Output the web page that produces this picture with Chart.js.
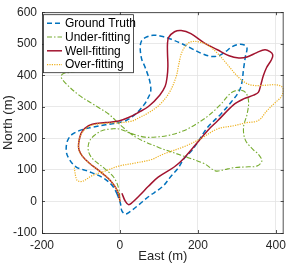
<!DOCTYPE html>
<html>
<head>
<meta charset="utf-8">
<script src="https://cdn.jsdelivr.net/npm/chart.js@4.4.0/dist/chart.umd.min.js"></script>
<style>
html, body { margin: 0; padding: 0; background: #fff; }
#wrap { width: 291px; height: 265px; }
</style>
</head>
<body>
<div id="wrap"><canvas id="trajChart" width="291" height="265"></canvas></div>
<script>
var xTicks = [-200, 0, 200, 400];
var yTicks = [-100, 0, 100, 200, 300, 400, 500, 600];

var seriesNames = ['Ground Truth', 'Under-fitting', 'Well-fitting', 'Over-fitting'];

// ground truth (closed loop)
var gtEast  = [-8, 1, 5, 14, 26, 47, 73, 110, 131, 150, 165, 182, 199, 225, 258, 280, 305, 313, 317, 322, 326, 319, 305, 288, 271, 254, 233, 208, 182, 157, 132, 106, 85, 66, 55, 52, 56, 63, 72, 77, 79, 72, 62, 39, 15, -3, -37, -71, -96, -121, -134, -138, -132, -113, -82, -45, -20, -8];
var gtNorth = [26, -5, -30, -40, -32, -12, 15, 48, 80, 107, 137, 158, 187, 235, 276, 307, 348, 378, 419, 460, 486, 496, 498, 491, 475, 462, 460, 470, 486, 501, 514, 524, 527, 520, 508, 485, 450, 430, 400, 378, 350, 328, 307, 276, 256, 250, 243, 235, 228, 214, 194, 163, 138, 110, 96, 76, 51, 26];

var underEast  = [-113, -135, -147, -151, -138, -105, -71, -54, -30, -12, 5, 39, 98, 165, 216, 245, 265, 292, 330, 351, 364, 355, 343, 322, 317, 326, 330, 322, 305, 284, 258, 225, 199, 174, 150, 123, 100, 64, 30, -3, -20, -45, -66, -79, -81, -70, -42, -15, -3, 0];
var underNorth = [412, 408, 404, 394, 373, 337, 310, 297, 278, 258, 238, 205, 172, 143, 120, 97, 100, 107, 110, 112, 128, 150, 163, 194, 235, 276, 317, 346, 353, 343, 307, 270, 248, 230, 218, 209, 205, 204, 215, 230, 230, 225, 209, 189, 160, 135, 107, 75, 40, 5];

var wellEast  = [0, -3, -12, -29, -54, -79, -96, -105, -106, -100, -90, -71, -37, -3, 22, 47, 73, 102, 116, 121, 123, 122, 122, 125, 140, 157, 182, 216, 250, 280, 305, 326, 351, 372, 385, 392, 389, 376, 368, 361, 355, 343, 317, 292, 250, 233, 207, 165, 140, 98, 73, 52, 30, 22, 14, 5];
var wellNorth = [0, 21, 46, 72, 98, 122, 143, 163, 184, 215, 232, 245, 250, 255, 266, 282, 301, 337, 365, 395, 429, 470, 501, 520, 538, 542, 532, 503, 481, 462, 455, 458, 472, 481, 475, 465, 450, 424, 399, 368, 346, 337, 325, 307, 255, 235, 199, 138, 110, 77, 48, 21, -5, -10, 0, 26];

var overEast  = [0, -3, -12, -29, -54, -79, -96, -105, -106, -100, -88, -71, -45, -12, -3, 31, 50, 73, 102, 128, 145, 150, 158, 170, 182, 203, 225, 250, 275, 300, 322, 343, 368, 397, 414, 419, 414, 397, 376, 360, 347, 326, 292, 250, 207, 165, 111, 81, 40, -3, -37, -71, -96, -109, -114, -117];
var overNorth = [0, 21, 46, 72, 98, 122, 143, 163, 184, 212, 230, 242, 247, 249, 249, 255, 266, 281, 307, 348, 399, 429, 470, 496, 506, 506, 496, 470, 435, 399, 376, 368, 368, 370, 365, 353, 332, 312, 286, 261, 253, 250, 240, 230, 199, 174, 150, 133, 122, 112, 97, 82, 64, 66, 82, 107];

function toPoints(east, north) {
    var pts = [];
    for (var i = 0; i < east.length; i++) {
        pts.push({ x: east[i], y: north[i] });
    }
    return pts;
}

var axisColor = '#262626';
var fontFamily = "'Liberation Sans', Arial, Helvetica, sans-serif";

// box round the plot with inward ticks, like the original
var framePlugin = {
    id: 'frame',
    afterDraw: function (chart) {
        var ctx = chart.ctx;
        var a = chart.chartArea;
        var xs = chart.scales.x;
        var ys = chart.scales.y;
        ctx.save();
        ctx.strokeStyle = axisColor;
        ctx.lineWidth = 0.8;
        ctx.strokeRect(a.left + 0.5, a.top + 0.5, a.right - a.left - 1, a.bottom - a.top);
        ctx.beginPath();
        xTicks.forEach(function (v) {
            var px = Math.round(xs.getPixelForValue(v)) + 0.5;
            ctx.moveTo(px, a.bottom); ctx.lineTo(px, a.bottom - 3);
            ctx.moveTo(px, a.top); ctx.lineTo(px, a.top + 3);
        });
        yTicks.forEach(function (v) {
            var py = Math.round(ys.getPixelForValue(v)) + 0.5;
            ctx.moveTo(a.left, py); ctx.lineTo(a.left + 3, py);
            ctx.moveTo(a.right, py); ctx.lineTo(a.right - 3, py);
        });
        ctx.stroke();
        ctx.restore();
    }
};

// legend drawn inside the axes, top left
var boxLegend = {
    id: 'boxLegend',
    afterDraw: function (chart) {
        var ctx = chart.ctx;
        var a = chart.chartArea;
        var x0 = a.left + 1.5, y0 = a.top + 2.5, w = 90, h = 58;
        ctx.save();
        ctx.fillStyle = '#fff';
        ctx.fillRect(x0, y0, w, h);
        ctx.strokeStyle = axisColor;
        ctx.lineWidth = 0.8;
        ctx.strokeRect(x0, y0, w, h);
        ctx.font = '12px ' + fontFamily;
        ctx.textBaseline = 'middle';
        chart.data.datasets.forEach(function (ds, i) {
            var cy = y0 + 8.5 + i * 13.8;
            ctx.strokeStyle = ds.borderColor;
            ctx.lineWidth = ds.borderWidth;
            ctx.setLineDash(ds.borderDash || []);
            ctx.beginPath();
            ctx.moveTo(x0 + 3.5, cy);
            ctx.lineTo(x0 + 18.5, cy);
            ctx.stroke();
            ctx.setLineDash([]);
            ctx.fillStyle = '#000';
            ctx.fillText(ds.label, x0 + 21.5, cy + 0.5);
        });
        ctx.restore();
    }
};

var ctx = document.getElementById('trajChart').getContext('2d');
var trajChart = new Chart(ctx, {
    type: 'scatter',
    data: {
        datasets: [{
            label: seriesNames[0],
            data: toPoints(gtEast, gtNorth),
            borderColor: '#0072BD',
            borderWidth: 1.5,
            borderDash: [5, 3],
            order: 4
        }, {
            label: seriesNames[1],
            data: toPoints(underEast, underNorth),
            borderColor: '#77AC30',
            borderWidth: 1.1,
            borderDash: [5, 2, 1.5, 2],
            order: 3
        }, {
            label: seriesNames[2],
            data: toPoints(wellEast, wellNorth),
            borderColor: '#A2142F',
            borderWidth: 1.5,
            order: 2
        }, {
            label: seriesNames[3],
            data: toPoints(overEast, overNorth),
            borderColor: '#EDB120',
            borderWidth: 1.2,
            borderDash: [1.2, 1.2],
            order: 1
        }]
    },
    options: {
        responsive: false,
        animation: false,
        devicePixelRatio: 1,
        showLine: true,
        elements: {
            point: { radius: 0, hoverRadius: 0 },
            line: { tension: 0.35, fill: false }
        },
        layout: { padding: { top: 5, right: 4, left: 0, bottom: 0 } },
        plugins: {
            legend: { display: false },
            tooltip: { enabled: false }
        },
        scales: {
            x: {
                type: 'linear',
                min: -200,
                max: 420,
                afterBuildTicks: function (scale) {
                    scale.ticks = xTicks.map(function (v) { return { value: v }; });
                },
                afterFit: function (scale) { scale.height = 32; },
                grid: { color: '#e3e3e3', lineWidth: 0.8, drawTicks: false },
                border: { display: false },
                ticks: {
                    color: axisColor,
                    padding: 5,
                    maxRotation: 0,
                    font: { family: fontFamily, size: 12 }
                },
                title: {
                    display: true,
                    text: 'East (m)',
                    color: axisColor,
                    padding: { top: 0, bottom: 1 },
                    font: { family: fontFamily, size: 13 }
                }
            },
            y: {
                type: 'linear',
                min: -100,
                max: 600,
                afterBuildTicks: function (scale) {
                    scale.ticks = yTicks.map(function (v) { return { value: v }; });
                },
                afterFit: function (scale) { scale.width = 42; },
                grid: { color: '#e3e3e3', lineWidth: 0.8, drawTicks: false },
                border: { display: false },
                ticks: {
                    color: axisColor,
                    padding: 5,
                    font: { family: fontFamily, size: 12 }
                },
                title: {
                    display: true,
                    text: 'North (m)',
                    color: axisColor,
                    padding: { top: 1, bottom: 0 },
                    font: { family: fontFamily, size: 13 }
                }
            }
        }
    },
    plugins: [framePlugin, boxLegend]
});
</script>
</body>
</html>
